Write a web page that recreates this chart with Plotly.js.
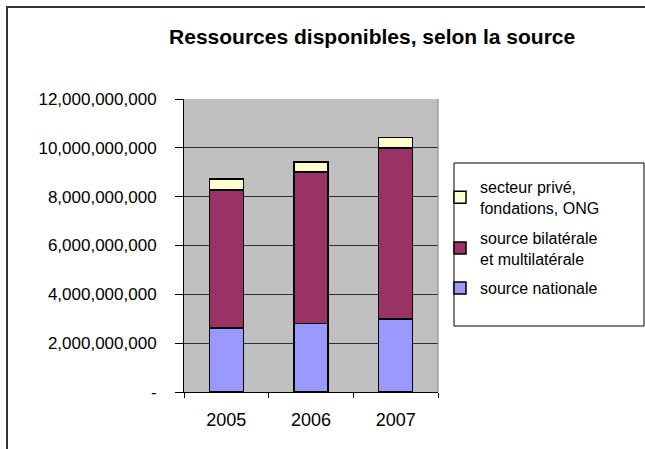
<!DOCTYPE html>
<html>
<head>
<meta charset="utf-8">
<script src="https://cdn.plot.ly/plotly-3.0.1.min.js"></script>
<style>
html,body{margin:0;padding:0;background:#fff;}
#chart{width:645px;height:449px;}
</style>
</head>
<body>
<div id="chart"></div>
<script>
const years = ['2005', '2006', '2007'];
const sourceNationale = [2.63e9, 2.81e9, 3.00e9];
const sourceBilaterale = [5.65e9, 6.20e9, 6.99e9];
const secteurPrive = [0.44e9, 0.40e9, 0.44e9];
const seriesNames = ['source nationale', 'source bilatérale<br>et multilatérale', 'secteur privé,<br>fondations, ONG'];
const tickValues = [0, 2e9, 4e9, 6e9, 8e9, 10e9, 12e9];
const tickLabels = ['-', '2,000,000,000', '4,000,000,000', '6,000,000,000', '8,000,000,000', '10,000,000,000', '12,000,000,000'];

const FONT = 'Liberation Sans, Arial, sans-serif';
const colors = ['#9999FF', '#993366', '#FFFFCC'];
const data = [sourceNationale, sourceBilaterale, secteurPrive].map((vals, i) => ({
  type: 'bar',
  x: years,
  y: vals,
  name: seriesNames[i],
  legendgroup: 'g' + i,
  legendrank: 3 - i,
  marker: {color: colors[i], line: {color: '#000', width: 1.5}},
  hoverinfo: 'y'
}));

const L = 184, R = 438, T = 99, B = 392;
const px = v => (v - L) / (R - L);
const py = v => (B - v) / (B - T);

const layout = {
  width: 645, height: 449,
  margin: {l: L, r: 645 - R, t: T, b: 449 - B, pad: 0},
  paper_bgcolor: '#fff',
  plot_bgcolor: '#C0C0C0',
  barmode: 'stack',
  bargap: 0.6,
  showlegend: true,
  font: {family: FONT, color: '#000', size: 16},
  title: {
    text: '<b>Ressources disponibles, selon la source</b>',
    font: {family: FONT, size: 21, color: '#000'},
    x: 0.577, xanchor: 'center', xref: 'container',
    y: 0.918, yanchor: 'middle', yref: 'container'
  },
  xaxis: {
    type: 'category',
    showgrid: false,
    showline: true, linecolor: '#000', linewidth: 1,
    ticks: 'outside', tickson: 'boundaries', ticklen: 5, tickcolor: '#000',
    tickfont: {family: FONT, size: 18, color: '#000'},
    ticklabelstandoff: 11,
    zeroline: false, fixedrange: true
  },
  yaxis: {
    range: [0, 12e9],
    tickvals: tickValues, ticktext: tickLabels,
    showgrid: true, gridcolor: '#303030', gridwidth: 1,
    showline: true, linecolor: '#000', linewidth: 1,
    ticks: 'outside', ticklen: 8, tickcolor: '#000',
    tickfont: {family: FONT, size: 17, color: '#000'},
    ticklabelstandoff: 15,
    zeroline: false, fixedrange: true
  },
  legend: {
    x: px(440), xanchor: 'left',
    y: py(170), yanchor: 'top',
    bgcolor: 'rgba(0,0,0,0)', borderwidth: 0,
    font: {family: FONT, size: 16, color: '#000'},
    traceorder: 'grouped',
    itemwidth: 30,
    tracegroupgap: 6
  },
  shapes: [
    {type: 'rect', xref: 'paper', yref: 'paper', x0: px(454), x1: px(644), y0: py(326), y1: py(163),
     line: {color: '#000', width: 1}, fillcolor: 'rgba(0,0,0,0)', layer: 'above'},
    {type: 'line', xref: 'paper', yref: 'paper', x0: 1, x1: 1, y0: 0, y1: 1,
     line: {color: '#808080', width: 1}, layer: 'above'},
    {type: 'path', xref: 'paper', yref: 'paper',
     path: `M ${px(7)},${py(460)} L ${px(7)},${py(7)} L ${px(660)},${py(7)}`,
     line: {color: '#333', width: 2}, layer: 'above'}
  ]
};

Plotly.newPlot('chart', data, layout, {displayModeBar: false, staticPlot: true});
</script>
</body>
</html>
